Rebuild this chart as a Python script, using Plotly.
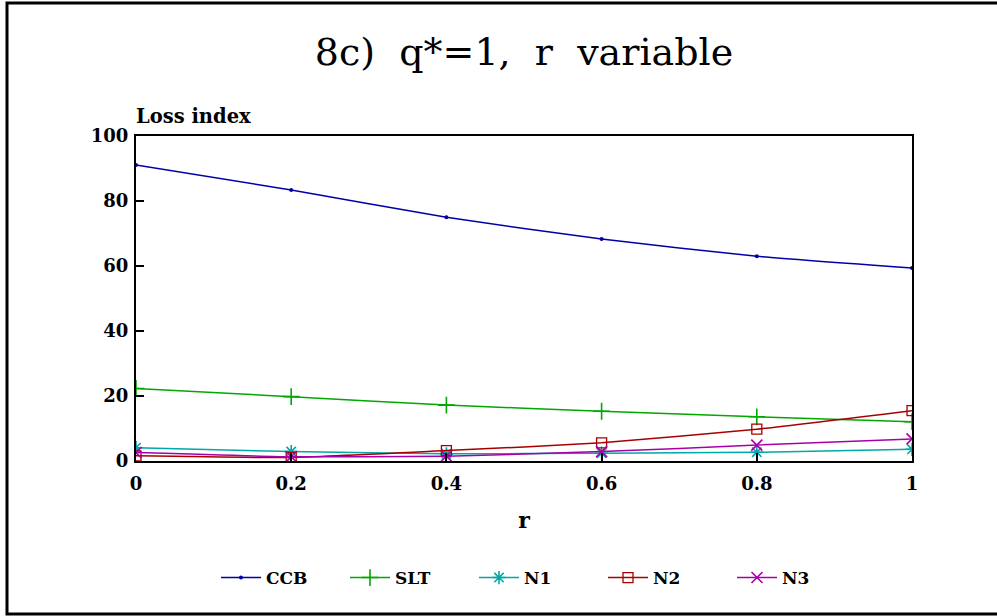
import plotly.graph_objects as go

r_vals = [0, 0.2, 0.4, 0.6, 0.8, 1.0]
ccb = [91.1, 83.4, 75.0, 68.3, 63.0, 59.4]
slt = [22.3, 19.8, 17.2, 15.3, 13.6, 12.1]
n1 = [4.1, 2.9, 2.2, 2.4, 2.7, 3.6]
n2 = [1.6, 1.1, 3.2, 5.6, 9.8, 15.5]
n3 = [2.6, 1.3, 1.5, 2.9, 4.9, 6.8]

series = [
    ("CCB", ccb, "#0000a8", "circle", 4, 0),
    ("SLT", slt, "#00a800", "cross-thin", 12, 1.6),
    ("N1", n1, "#00a8a8", "asterisk-open", 11, 1.6),
    ("N2", n2, "#a80000", "square-open", 10, 1.3),
    ("N3", n3, "#a800a8", "x-thin", 11, 1.6),
]

FONT = "DejaVu Serif"

fig = go.Figure()
for name, vals, col, sym, size, lw in series:
    fig.add_trace(go.Scatter(
        x=r_vals, y=vals, name=name, mode="lines+markers",
        line=dict(color=col, width=1.5, shape="spline", smoothing=0.5),
        marker=dict(symbol=sym, size=size, color=col,
                    line=dict(color=col, width=lw)),
    ))

W, H = 997, 616
L, R, T, B = 136, 85, 136, 155
pw, ph = W - L - R, H - T - B

def px_x(p):
    return (p - L) / pw

def px_y(p):
    return (H - B - p) / ph

fig.update_layout(
    width=W, height=H,
    margin=dict(l=L, r=R, t=T, b=B),
    paper_bgcolor="white", plot_bgcolor="white",
    font=dict(family=FONT, color="black"),
    title=dict(text="8c)  q*=1,  r  variable", xref="paper", x=0.5, xanchor="center",
               y=1 - 52 / H, yanchor="middle",
               font=dict(family=FONT, size=38, color="black")),
    showlegend=True,
    legend=dict(orientation="h", x=px_x(216), xanchor="left", y=px_y(578), yanchor="middle",
                font=dict(family=FONT, size=17, color="black", weight="bold"),
                itemwidth=40, entrywidth=74, entrywidthmode="pixels",
                tracegroupgap=0, bgcolor="rgba(0,0,0,0)"),
    xaxis=dict(range=[0, 1], tickvals=r_vals, ticktext=["0", "0.2", "0.4", "0.6", "0.8", "1"],
               showline=True, linecolor="black", linewidth=2, mirror=True,
               ticks="inside", ticklen=8, tickwidth=2, tickcolor="black",
               showgrid=False, zeroline=False, ticklabelstandoff=5,
               tickfont=dict(family=FONT, size=18, weight="bold"),
               title=dict(text="r", font=dict(family=FONT, size=22, weight="bold"), standoff=20)),
    yaxis=dict(range=[0, 100], tickvals=[0, 20, 40, 60, 80, 100],
               showline=True, linecolor="black", linewidth=2, mirror=True,
               ticks="inside", ticklen=8, tickwidth=2, tickcolor="black",
               showgrid=False, zeroline=False, ticklabelstandoff=2,
               tickfont=dict(family=FONT, size=18, weight="bold")),
    annotations=[dict(text="Loss index", xref="paper", yref="paper", x=0.0, y=px_y(117),
                      xanchor="left", yanchor="middle", showarrow=False, xshift=-2,
                      font=dict(family=FONT, size=19.5, weight="bold"))],
    shapes=[dict(type="rect", xref="paper", yref="paper",
                 x0=px_x(7), x1=px_x(1002), y0=px_y(614), y1=px_y(3),
                 line=dict(color="black", width=3), layer="below")],
)

fig.write_html("out.html")
